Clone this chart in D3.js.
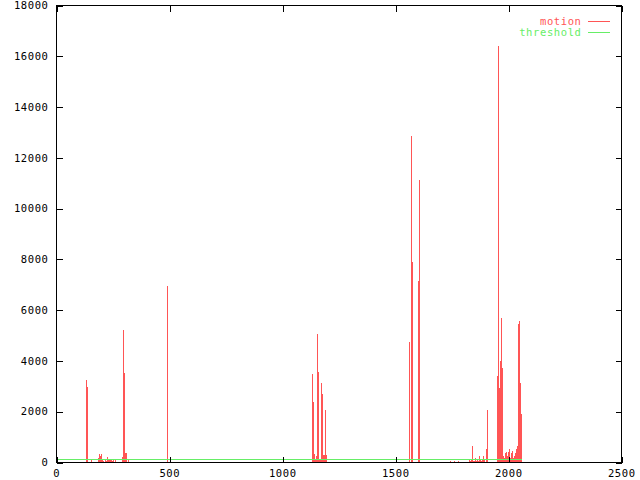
<!DOCTYPE html>
<html>
<head>
<meta charset="utf-8">
<script src="https://cdn.jsdelivr.net/npm/d3@7"></script>
<style>
  html, body { margin: 0; padding: 0; background: #fff; }
  svg { display: block; }
  text { font-family: "DejaVu Sans Mono", "Liberation Mono", monospace; font-size: 10.5px; letter-spacing: 0.6px; }
</style>
</head>
<body>
<script>
// ---- data ----
const xTicks = [0, 500, 1000, 1500, 2000, 2500];
const yTicks = [0, 2000, 4000, 6000, 8000, 10000, 12000, 14000, 16000, 18000];
const seriesNames = ["motion", "threshold"];
const firstFrame = 0;
const lastFrame = 2058;
const thresholdValue = 100;
// frames where motion is non-zero, and their values
const motionFrames = [133, 137, 155, 186, 190, 195, 199, 204, 208, 217, 221, 226, 230, 235, 239, 243, 248, 252, 261,
  292, 296, 301, 305, 310, 319,
  491,
  1133, 1137, 1142, 1146, 1150, 1155, 1159, 1164, 1168, 1173, 1177, 1181, 1186, 1190, 1195,
  1562, 1571, 1575, 1602, 1606,
  1743, 1761, 1779,
  1827, 1832, 1836, 1841, 1845, 1850, 1854, 1858, 1863, 1867, 1872, 1876, 1881, 1885, 1889, 1894, 1903, 1907,
  1951, 1956, 1960, 1965, 1969, 1973, 1978, 1982, 1987, 1991, 1996, 2000, 2004, 2009, 2013, 2018, 2022, 2027, 2031, 2035, 2040, 2044, 2049, 2053, 2058];
const motionValues = [3250, 2970, 140, 170, 330, 275, 315, 90, 60, 140, 60, 220, 100, 100, 140, 140, 60, 140, 80,
  210, 5220, 3520, 370, 370, 140,
  6950,
  3480, 2380, 330, 100, 250, 5070, 3560, 90, 90, 3130, 2690, 290, 290, 2060, 290,
  4740, 12870, 7900, 7150, 11130,
  40, 40, 40,
  30, 40, 80, 640, 50, 60, 170, 40, 90, 40, 250, 90, 40, 130, 250, 90, 520, 2060,
  3400, 16420, 2940, 4000, 5690, 3720, 250, 170, 370, 400, 250, 400, 520, 170, 370, 440, 170, 250, 370, 520, 640, 5450, 5570, 3130, 1910];

// ---- layout ----
const W = 640, H = 480;
const mLeft = 56.5, mRight = 621.5, mTop = 5.5, mBottom = 462.5;
const red = "#ff5555", green = "#66ee66";

const svg = d3.select("body").append("svg").attr("width", W).attr("height", H);

const x = d3.scaleLinear().domain([0, 2500]).range([mLeft, mRight]);
const y = d3.scaleLinear().domain([0, 18000]).range([mBottom, mTop]);

// motion points: baseline with spikes
const pts = [[firstFrame, 0]];
motionFrames.forEach((f, i) => {
  pts.push([f - 1, 0], [f, motionValues[i]], [f + 1, 0]);
});
pts.push([lastFrame, 0]);
pts.sort((a, b) => a[0] - b[0]);

const line = d3.line().x(d => x(d[0])).y(d => y(d[1]));

svg.append("path").datum(pts)
  .attr("d", line).attr("fill", "none").attr("stroke", red)
  .attr("stroke-width", 1).attr("shape-rendering", "crispEdges");

svg.append("path").datum([[firstFrame, thresholdValue], [lastFrame, thresholdValue]])
  .attr("d", line).attr("fill", "none").attr("stroke", green)
  .attr("stroke-width", 1).attr("shape-rendering", "crispEdges");

// border
svg.append("rect").attr("x", mLeft).attr("y", mTop)
  .attr("width", mRight - mLeft).attr("height", mBottom - mTop)
  .attr("fill", "none").attr("stroke", "#000").attr("shape-rendering", "crispEdges");

// ticks (inward, mirrored) via axes
const tl = 6;
const bx = svg.append("g").attr("transform", `translate(0,${mBottom})`)
  .call(d3.axisTop(x).tickValues(xTicks).tickSize(tl).tickFormat(""));
const tx = svg.append("g").attr("transform", `translate(0,${mTop})`)
  .call(d3.axisBottom(x).tickValues(xTicks).tickSize(tl).tickFormat(""));
const ly = svg.append("g").attr("transform", `translate(${mLeft},0)`)
  .call(d3.axisRight(y).tickValues(yTicks).tickSize(tl).tickFormat(""));
const ry = svg.append("g").attr("transform", `translate(${mRight},0)`)
  .call(d3.axisLeft(y).tickValues(yTicks).tickSize(tl).tickFormat(""));
[bx, tx, ly, ry].forEach(g => {
  g.select(".domain").remove();
  g.selectAll("line").attr("stroke", "#000").attr("shape-rendering", "crispEdges");
});

// tick labels
svg.append("g").selectAll("text").data(xTicks).join("text")
  .attr("x", d => x(d) + 0.3).attr("y", 477)
  .attr("text-anchor", "middle").attr("fill", "#000").text(d => d);
svg.append("g").selectAll("text").data(yTicks).join("text")
  .attr("x", 48.5).attr("y", d => y(d)).attr("dy", "0.35em")
  .attr("text-anchor", "end").attr("fill", "#000").text(d => d);

// legend
const legColors = [red, green];
const leg = svg.append("g");
seriesNames.forEach((n, i) => {
  const yy = 21.5 + i * 11;
  leg.append("text").attr("x", 581.5).attr("y", yy).attr("dy", "0.35em")
    .attr("text-anchor", "end").attr("fill", legColors[i]).text(n);
  leg.append("line").attr("x1", 588).attr("x2", 610).attr("y1", yy).attr("y2", yy)
    .attr("stroke", legColors[i]).attr("shape-rendering", "crispEdges");
});
</script>
</body>
</html>
